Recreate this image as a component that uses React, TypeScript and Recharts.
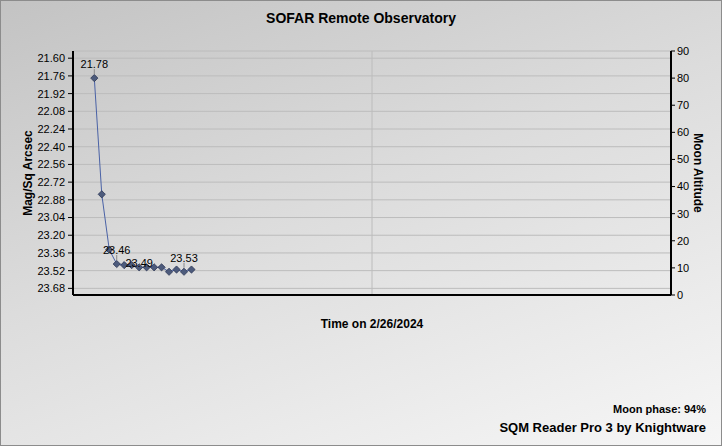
import { ComposedChart, Line, XAxis, YAxis, CartesianGrid, ReferenceLine, LabelList } from 'recharts'

document.body.style.margin = '0'

// sample times (in chart units from the left edge) and sky brightness readings
const sampleTimes = [2.85, 3.85, 4.85, 5.85, 6.85, 7.85, 8.85, 9.85, 10.85, 11.85, 12.85, 13.85, 14.85, 15.85]
const skyReadings = [21.78, 22.83, 23.33, 23.46, 23.47, 23.47, 23.49, 23.49, 23.49, 23.49, 23.53, 23.51, 23.53, 23.51]
const labelledPoints = [0, 3, 6, 12]

const magTicks = [21.6, 21.76, 21.92, 22.08, 22.24, 22.4, 22.56, 22.72, 22.88, 23.04, 23.2, 23.36, 23.52, 23.68]
const moonTicks = [0, 10, 20, 30, 40, 50, 60, 70, 80, 90]
const timeTicks = [0, 10, 20, 30, 40, 50, 60, 70, 80]

const data = sampleTimes.map((t, i) => ({ t, mag: skyReadings[i] }))

const FONT = '"Liberation Sans", Arial, sans-serif'
const GRID = '#bcbcbc'

// labels that had no room get pushed down onto the markers (no leader line)
const squeezedLabels = [6]

const Diamond = (props: any) => {
  const { cx, cy } = props
  if (cx == null || cy == null) return null
  const r = 3.6
  return (
    <path
      d={`M${cx},${cy - r} L${cx + r},${cy} L${cx},${cy + r} L${cx - r},${cy} Z`}
      fill="#4d5b7c"
      stroke="#2c3654"
      strokeWidth={0.8}
    />
  )
}

const PointLabel = (props: any) => {
  const { x, y, value, index } = props
  if (!labelledPoints.includes(index)) return null
  const squeezed = squeezedLabels.includes(index)
  return (
    <g>
      {!squeezed && <line x1={x} y1={y - 4} x2={x} y2={y - 9} stroke="#8a8a8a" strokeWidth={1} />}
      <text
        x={x}
        y={squeezed ? y : y - 10}
        textAnchor="middle"
        fontSize={11}
        fontFamily={FONT}
        fill="#000"
      >
        {value.toFixed(2)}
      </text>
    </g>
  )
}

export default function App() {
  return (
    <div
      style={{
        width: 720,
        height: 444,
        border: '1px solid #8c8c8c',
        background: 'linear-gradient(160deg, #c3c3c3 0%, #dcdcdc 45%, #f6f6f6 100%)',
        position: 'relative',
        fontFamily: FONT,
      }}
    >
      <div
        style={{
          position: 'absolute',
          left: 0,
          right: 0,
          top: 9,
          textAlign: 'center',
          fontSize: 14,
          fontWeight: 'bold',
        }}
      >
        SOFAR Remote Observatory
      </div>
      <div style={{ position: 'absolute', left: -1, top: -1 }}>
        <ComposedChart
          width={722}
          height={446}
          data={data}
          margin={{ top: 51, right: 0, left: 0, bottom: 121 }}
        >
          <CartesianGrid yAxisId="left" vertical={false} stroke={GRID} />
          <ReferenceLine yAxisId="left" x={40} stroke={GRID} />
          <XAxis
            dataKey="t"
            type="number"
            domain={[0, 80]}
            ticks={timeTicks}
            tick={false}
            height={30}
            axisLine={{ stroke: '#000', strokeWidth: 2 }}
            tickLine={{ stroke: '#777' }}
            tickSize={4}
            label={{
              value: 'Time on 2/26/2024',
              position: 'insideTop',
              offset: 24,
              fontSize: 12,
              fontWeight: 'bold',
              fontFamily: FONT,
              fill: '#000',
            }}
          />
          <YAxis
            yAxisId="left"
            reversed
            domain={[21.535, 23.74]}
            ticks={magTicks}
            interval={0}
            allowDataOverflow
            width={73}
            tickFormatter={(v: number) => v.toFixed(2)}
            tick={{ fontSize: 11, fontFamily: FONT, fill: '#000' }}
            tickLine={{ stroke: '#000' }}
            tickSize={5}
            tickMargin={3}
            axisLine={{ stroke: '#000', strokeWidth: 2 }}
            label={{
              value: 'Mag/Sq Arcsec',
              angle: -90,
              position: 'insideLeft',
              offset: 28,
              fontSize: 12,
              fontWeight: 'bold',
              fontFamily: FONT,
              fill: '#000',
              style: { textAnchor: 'middle' },
            }}
          />
          <YAxis
            yAxisId="right"
            orientation="right"
            domain={[0, 90]}
            ticks={moonTicks}
            interval={0}
            allowDataOverflow
            width={51}
            tick={{ fontSize: 11, fontFamily: FONT, fill: '#000' }}
            tickLine={{ stroke: '#000' }}
            tickSize={4}
            tickMargin={2}
            axisLine={{ stroke: '#000', strokeWidth: 2 }}
            label={{
              value: 'Moon Altitude',
              angle: 90,
              position: 'insideRight',
              offset: 24,
              fontSize: 12,
              fontWeight: 'bold',
              fontFamily: FONT,
              fill: '#000',
              style: { textAnchor: 'middle' },
            }}
          />
          <Line
            yAxisId="left"
            dataKey="mag"
            type="linear"
            stroke="#4a62a6"
            strokeWidth={1}
            dot={<Diamond />}
            activeDot={false}
            isAnimationActive={false}
          >
            <LabelList dataKey="mag" content={<PointLabel />} />
          </Line>
        </ComposedChart>
      </div>
      <div
        style={{
          position: 'absolute',
          right: 15,
          top: 402,
          fontSize: 11,
          fontWeight: 'bold',
        }}
      >
        Moon phase: 94%
      </div>
      <div
        style={{
          position: 'absolute',
          right: 15,
          top: 419,
          fontSize: 13,
          fontWeight: 'bold',
        }}
      >
        SQM Reader Pro 3 by Knightware
      </div>
    </div>
  )
}
